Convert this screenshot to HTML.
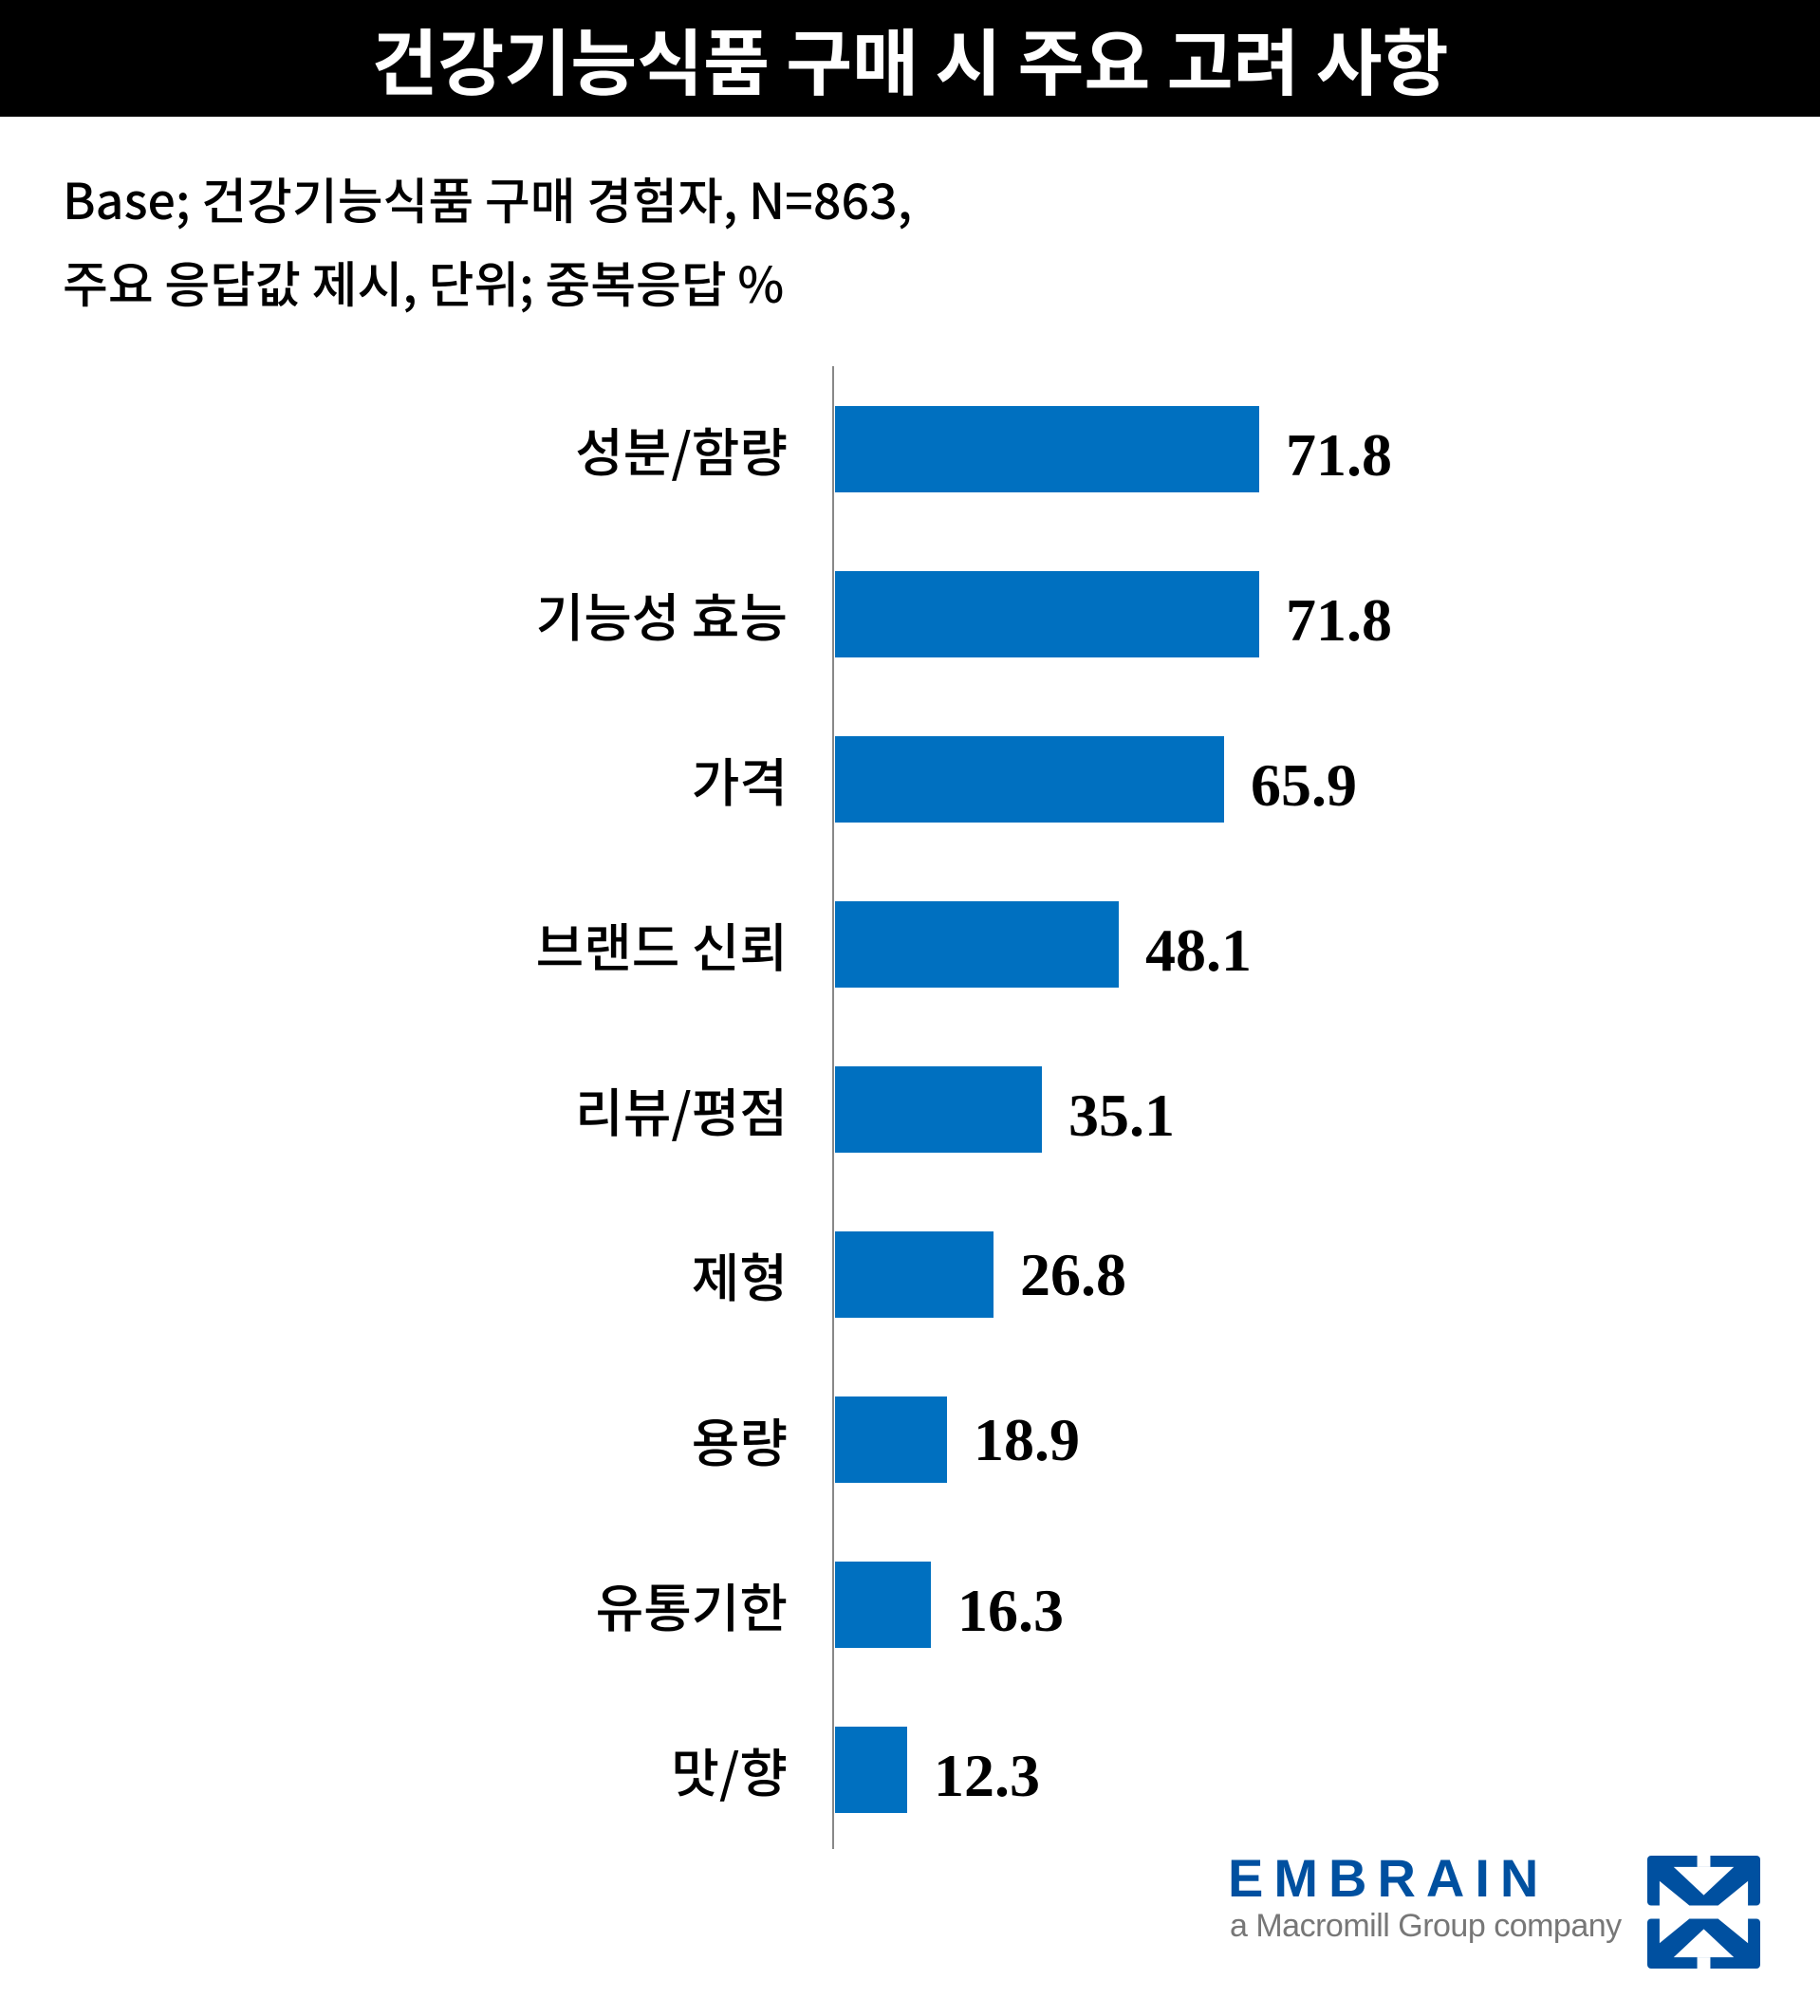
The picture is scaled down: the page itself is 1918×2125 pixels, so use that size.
<!DOCTYPE html>
<html><head><meta charset="utf-8"><style>
body{margin:0;width:1918px;height:2125px;background:#fff;position:relative;overflow:hidden;font-family:"Liberation Sans","Noto Sans CJK KR",sans-serif}
.hdr{position:absolute;left:0;top:0;width:1918px;height:123px;background:#000;color:#fff;font-size:76px;font-weight:bold;text-align:center;line-height:123px;font-family:"Noto Sans CJK KR",sans-serif}
.sub{position:absolute;left:66px;font-size:52px;font-family:"Noto Sans CJK KR",sans-serif;font-weight:500;color:#000;white-space:nowrap;line-height:70px}
.axis{position:absolute;left:877px;top:386px;width:2px;height:1563px;background:#888}
.bar{position:absolute;left:880px;height:91px;background:#0070c0}
.lab{position:absolute;right:1088px;font-size:55px;font-family:"Noto Sans CJK KR",sans-serif;font-weight:500;line-height:91px;white-space:nowrap}
.val{position:absolute;font-size:64px;font-weight:bold;line-height:91px;font-family:"Liberation Serif",serif}
</style></head><body>
<div class="hdr">건강기능식품 구매 시 주요 고려 사항</div>
<div class="sub" style="top:174px">Base; 건강기능식품 구매 경험자, N=863,</div>
<div class="sub" style="top:262px">주요 응답값 제시, 단위; 중복응답 %</div>
<div class="axis"></div>

<div class="lab" style="top:428px">성분/함량</div><div class="bar" style="top:428px;width:447px"></div><div class="val" style="top:434px;left:1355px">71.8</div>
<div class="lab" style="top:602px">기능성 효능</div><div class="bar" style="top:602px;width:447px"></div><div class="val" style="top:608px;left:1355px">71.8</div>
<div class="lab" style="top:776px">가격</div><div class="bar" style="top:776px;width:410px"></div><div class="val" style="top:782px;left:1318px">65.9</div>
<div class="lab" style="top:950px">브랜드 신뢰</div><div class="bar" style="top:950px;width:299px"></div><div class="val" style="top:956px;left:1207px">48.1</div>
<div class="lab" style="top:1124px">리뷰/평점</div><div class="bar" style="top:1124px;width:218px"></div><div class="val" style="top:1130px;left:1126px">35.1</div>
<div class="lab" style="top:1298px">제형</div><div class="bar" style="top:1298px;width:167px"></div><div class="val" style="top:1298px;left:1075px">26.8</div>
<div class="lab" style="top:1472px">용량</div><div class="bar" style="top:1472px;width:118px"></div><div class="val" style="top:1472px;left:1026px">18.9</div>
<div class="lab" style="top:1646px">유통기한</div><div class="bar" style="top:1646px;width:101px"></div><div class="val" style="top:1652px;left:1009px">16.3</div>
<div class="lab" style="top:1820px">맛/향</div><div class="bar" style="top:1820px;width:76px"></div><div class="val" style="top:1826px;left:984px">12.3</div>

<div style="position:absolute;left:1294px;top:1950px;font-size:56px;font-weight:bold;color:#0050a0;letter-spacing:11px;line-height:60px">EMBRAIN</div>
<div style="position:absolute;left:1296px;top:2010px;font-size:34px;color:#777;line-height:40px;letter-spacing:-0.5px">a Macromill Group company</div>
<svg style="position:absolute;left:1736px;top:1956px" width="119" height="119" viewBox="0 0 120 120">
<g id="h"><rect x="0" y="0" width="120" height="53" rx="4" fill="#0050a0"/>
<polygon points="53,0 67,0 67,12 53,12" fill="#fff"/>
<polygon points="28,12 92,12 60,42" fill="#fff"/>
<polygon points="13,27 13,54 46,54" fill="#fff"/>
<polygon points="107,27 107,54 74,54" fill="#fff"/></g>
<use href="#h" transform="translate(0,120) scale(1,-1)"/>
</svg>
</body></html>
